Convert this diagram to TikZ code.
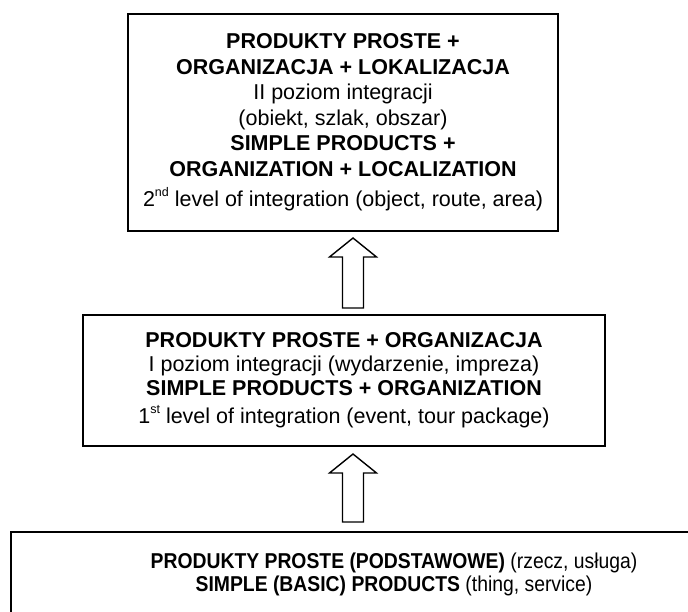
\documentclass[tikz,border=0pt]{standalone}
\usepackage{fontspec}
\usepackage{graphicx}
\setmainfont{Liberation Sans}
\usetikzlibrary{calc}
\newcommand\blockup[2]{%
  \draw[blk] ($(#2)+(-10.5,0)$) -- ($(#1)+(-10.5,19)$) -- ($(#1)+(-23.5,19)$) -- (#1)
    -- ($(#1)+(23.5,19)$) -- ($(#1)+(10.5,19)$) -- ($(#2)+(10.5,0)$) -- cycle;}
\newcommand\upscript[1]{\raisebox{10.5pt}[0pt][0pt]{\fontsize{12.5}{12.5}\selectfont #1}}
\begin{document}
\begin{tikzpicture}[x=1pt,y=-1pt,
  box/.style={draw, line width=2pt, inner sep=0pt, align=center},
  blk/.style={draw, line width=1.4pt, line join=miter, fill=white}]
\useasboundingbox (0,0) rectangle (688,612);
\clip (0,0) rectangle (688,612);

\node[box, minimum width=430pt, minimum height=217pt,
      font=\fontsize{21.5}{25.5}\selectfont] (top) at (343,122.5)
  {\textbf{PRODUKTY PROSTE +}\\ \textbf{ORGANIZACJA + LOKALIZACJA}\\ II poziom integracji\\
   (obiekt, szlak, obszar)\\ \textbf{SIMPLE PRODUCTS +}\\ \textbf{ORGANIZATION + LOCALIZATION}\\[5pt]
   2\upscript{nd} level of integration (object, route, area)};

\node[box, minimum width=522pt, minimum height=131pt,
      font=\fontsize{21.5}{24}\selectfont] (mid) at (344,380.5)
  {\textbf{PRODUKTY PROSTE + ORGANIZACJA}\\ I poziom integracji (wydarzenie, impreza)\\
   \textbf{SIMPLE PRODUCTS + ORGANIZATION}\\[4pt]
   1\upscript{st} level of integration (event, tour package)};

\node[box, minimum width=766pt, minimum height=84pt,
      font=\fontsize{21.5}{23}\selectfont] (bot) at (394,574)
  {\scalebox{0.9}[1]{\textbf{PRODUKTY PROSTE (PODSTAWOWE)} (rzecz, usługa)}\\
   \scalebox{0.9}[1]{\textbf{SIMPLE (BASIC) PRODUCTS} (thing, service)}};

\coordinate (ax) at (353,0);
\coordinate (t1) at ($(ax |- top.south)+(0,6)$);
\coordinate (b1) at ($(ax |- mid.north)+(0,-6)$);
\coordinate (t2) at ($(ax |- mid.south)+(0,7)$);
\coordinate (b2) at ($(ax |- bot.north)+(0,-9)$);
\blockup{t1}{b1}
\blockup{t2}{b2}
\end{tikzpicture}
\end{document}
